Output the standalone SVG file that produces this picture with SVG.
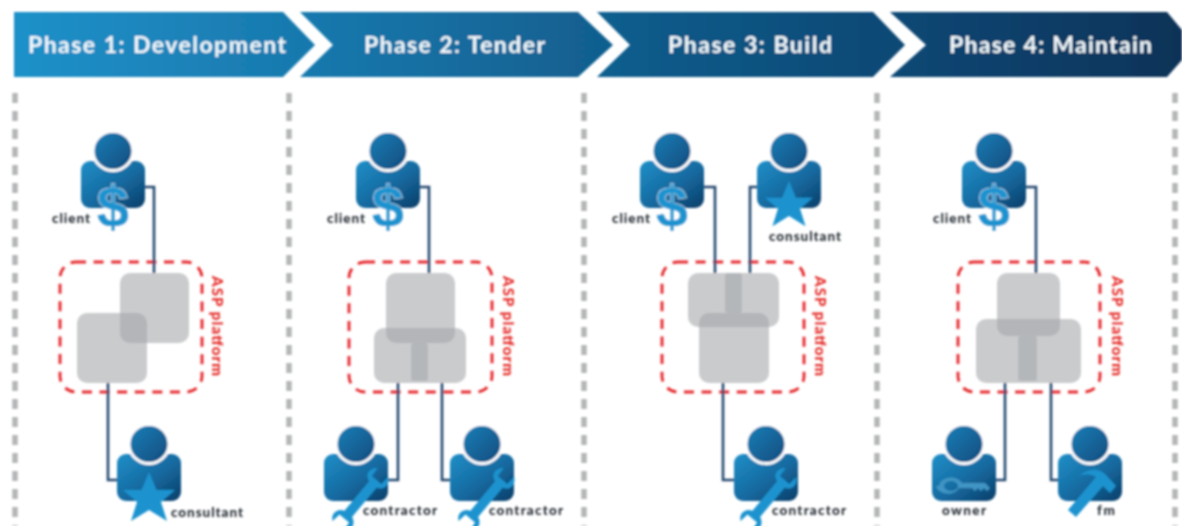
<svg xmlns="http://www.w3.org/2000/svg" width="1182" height="526" viewBox="0 0 1182 526">
<style>
.hd{font:700 23px Lato,"Liberation Sans",sans-serif;fill:#f2f9fc}
.lb{font:900 13.5px Lato,"Liberation Sans",sans-serif;fill:#2a3138}
.asp{font:900 15px Lato,"Liberation Sans",sans-serif;fill:#e62f2c}
.dol{font:700 58px "Liberation Sans",sans-serif;fill:#1f93cf;stroke:#fff;stroke-width:1;paint-order:stroke;text-anchor:middle}
.sep{fill:none;stroke:#b4b6b7;stroke-width:5.5;stroke-dasharray:10 8}
.box{fill:none;stroke:#e62f33;stroke-width:2.9;stroke-dasharray:10 7.6}
.sq{fill:#a3a6a8;opacity:.58}
.bar{fill:#a0a3a8;opacity:.5}
.cn{fill:none;stroke:#264a70;stroke-width:2.6}
.ic{fill:#1f93cf}
</style>
<defs>
<filter id="soft" filterUnits="userSpaceOnUse" x="0" y="0" width="1182" height="526"><feGaussianBlur stdDeviation="0.85"/></filter>
<linearGradient id="hg" gradientUnits="userSpaceOnUse" x1="14" y1="0" x2="1182" y2="0">
<stop offset="0" stop-color="#1f91c9"/><stop offset=".3" stop-color="#1774a8"/><stop offset=".55" stop-color="#105a89"/><stop offset=".8" stop-color="#0c4470"/><stop offset="1" stop-color="#0b3358"/>
</linearGradient>
<linearGradient id="bg" x1="0" y1="0" x2="1" y2="1">
<stop offset="0" stop-color="#1f8fc8"/><stop offset=".55" stop-color="#15699f"/><stop offset="1" stop-color="#0b3d68"/>
</linearGradient>
<linearGradient id="hdg" x1="0" y1="0" x2="1" y2="1">
<stop offset="0" stop-color="#1a7fb7"/><stop offset="1" stop-color="#0f4c7e"/>
</linearGradient>
<g id="person">
<rect x="-32" y="12" width="64" height="47" rx="9" fill="url(#bg)"/>
<ellipse cx="0" cy="2" rx="21.5" ry="21" fill="#fff"/>
<ellipse cx="0" cy="2" rx="18.5" ry="18" fill="url(#hdg)"/>
</g>
<polygon id="star" class="ic" points="0,-26 7.5,-8 26,-8 12,4 18,23 0,12 -18,23 -12,4 -26,-8 -7.5,-8"/>
<path id="wrench" class="ic" d="M-8,-27 L-8,-35 C-20,-38 -22,-52 -11,-60 L-10,-44 L10,-44 L11,-60 C22,-52 20,-38 8,-35 L8,-27 L8,27 C20,31 22,45 12,52 L10,37 L-10,37 L-12,52 C-22,45 -20,31 -8,27 Z"/>
</defs>
<rect width="1182" height="526" fill="#fff"/>
<g filter="url(#soft)">
<g id="headers">
<g id="phase1"><polygon points="14,12 283,12 315,45 283,77 14,77" fill="url(#hg)"/><text class="hd" x="28" y="53" textLength="258">Phase 1: Development</text></g>
<g id="phase2"><polygon points="300,12 578,12 613,45 578,77 300,77 333,45" fill="url(#hg)"/><text class="hd" x="364" y="53" textLength="181">Phase 2: Tender</text></g>
<g id="phase3"><polygon points="597,12 873,12 905,45 873,77 597,77 630,45" fill="url(#hg)"/><text class="hd" x="668" y="53" textLength="164">Phase 3: Build</text></g>
<g id="phase4"><polygon points="890,12 1167,12 1182,30 1182,60 1167,77 890,77 926,45" fill="url(#hg)"/><text class="hd" x="949" y="53" textLength="203">Phase 4: Maintain</text></g>
</g>
<g id="separators">
<path class="sep" d="M15,93V526M289,93V526M584,93V526M877,93V526M1175,93V526"/>
</g>
<g id="platform1">
<rect class="box" x="60" y="262" width="142" height="130" rx="16"/>
<rect class="sq" x="120" y="273" width="69" height="70" rx="10"/>
<rect class="sq" x="77" y="313" width="70" height="70" rx="10"/>
<text class="asp" transform="translate(212,276) rotate(90)" textLength="100">ASP platform</text>
</g>
<g id="platform2">
<rect class="box" x="349" y="262" width="143" height="130" rx="16"/>
<rect class="sq" x="386" y="273" width="69" height="70" rx="10"/>
<rect class="sq" x="374" y="328" width="92" height="55" rx="10"/>
<rect class="bar" x="411" y="343" width="17" height="38" rx="3"/>
<text class="asp" transform="translate(503,276) rotate(90)" textLength="100">ASP platform</text>
</g>
<g id="platform3">
<rect class="box" x="662" y="262" width="142" height="130" rx="16"/>
<rect class="sq" x="688" y="273" width="91" height="54" rx="10"/>
<rect class="sq" x="699" y="313" width="70" height="70" rx="10"/>
<rect class="bar" x="725" y="273" width="17" height="40" rx="3"/>
<text class="asp" transform="translate(815,276) rotate(90)" textLength="100">ASP platform</text>
</g>
<g id="platform4">
<rect class="box" x="958" y="262" width="142" height="130" rx="16"/>
<rect class="sq" x="997" y="273" width="63" height="63" rx="10"/>
<rect class="sq" x="976" y="319" width="105" height="64" rx="10"/>
<rect class="bar" x="1018" y="336" width="19" height="45" rx="3"/>
<text class="asp" transform="translate(1112,276) rotate(90)" textLength="100">ASP platform</text>
</g>
<g id="connectors">
<path class="cn" d="M145,187H154V273"/>
<path class="cn" d="M108,383V480H118"/>
<path class="cn" d="M420,187H429V273"/>
<path class="cn" d="M398,383V480H388"/>
<path class="cn" d="M442,383V480H450"/>
<path class="cn" d="M704,187H715V273"/>
<path class="cn" d="M757,187H750V273"/>
<path class="cn" d="M723,383V480H735"/>
<path class="cn" d="M1026,187H1036V273"/>
<path class="cn" d="M1005,383V480H996"/>
<path class="cn" d="M1051,383V480H1059"/>
</g>
<g id="client1"><use href="#person" x="113" y="149"/><text class="dol" x="113" y="227">$</text><text class="lb" x="52" y="223" textLength="38">client</text></g>
<g id="consultant1"><use href="#person" x="149" y="442"/><use href="#star" x="149" y="498"/><text class="lb" x="171" y="517" textLength="72">consultant</text></g>
<g id="client2"><use href="#person" x="388" y="149"/><text class="dol" x="388" y="227">$</text><text class="lb" x="327" y="223" textLength="38">client</text></g>
<g id="contractor2a"><use href="#person" x="356" y="442"/><use href="#wrench" transform="translate(359,501) rotate(40) scale(.62)"/><text class="lb" x="363" y="515" textLength="74">contractor</text></g>
<g id="contractor2b"><use href="#person" x="482" y="442"/><use href="#wrench" transform="translate(485,501) rotate(40) scale(.62)"/><text class="lb" x="489" y="515" textLength="74">contractor</text></g>
<g id="client3"><use href="#person" x="672" y="149"/><text class="dol" x="672" y="227">$</text><text class="lb" x="612" y="223" textLength="38">client</text></g>
<g id="consultant3"><use href="#person" x="789" y="149"/><use href="#star" transform="translate(789,205) scale(.92)"/><text class="lb" x="769" y="241" textLength="72">consultant</text></g>
<g id="contractor3"><use href="#person" x="766" y="442"/><use href="#wrench" transform="translate(767,501) rotate(40) scale(.62)"/><text class="lb" x="772" y="515" textLength="74">contractor</text></g>
<g id="client4"><use href="#person" x="994" y="149"/><text class="dol" x="994" y="227">$</text><text class="lb" x="933" y="223" textLength="38">client</text></g>
<g id="owner4"><use href="#person" x="964" y="442"/><path fill="#3f95c4" fill-rule="evenodd" d="M939,486a12,9 0 0 1 23,-3H985l5,5l-3,3l-3,-3l-3,3l-3,-3l-3,3l-3,-3h-13a12,9 0 0 1 -23,-2Zm5,0a7,5 0 1 0 14,0a7,5 0 1 0 -14,0Z"/><text class="lb" x="942" y="515" textLength="44">owner</text></g>
<g id="fm4"><use href="#person" x="1090" y="442"/><path class="ic" d="M1068,510L1096,477C1090,473 1085,474 1079,476C1088,468 1098,468 1105,474L1116,486L1110,493L1103,486L1076,517Z"/><text class="lb" x="1097" y="515" textLength="18">fm</text></g>
</g>
</svg>
